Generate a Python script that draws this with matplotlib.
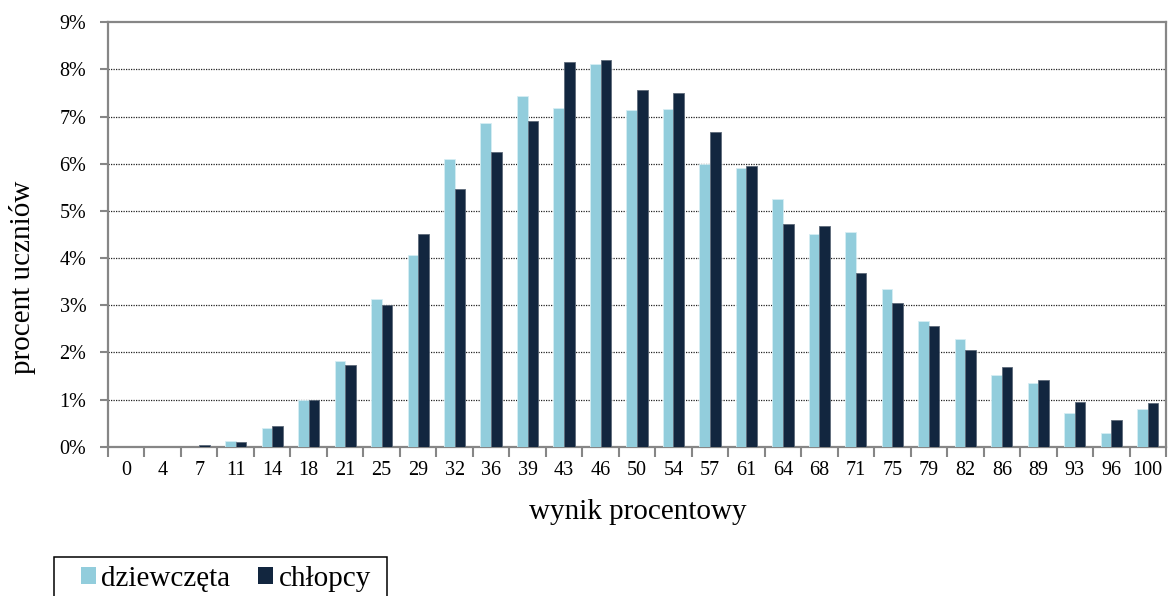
import matplotlib
matplotlib.use("Agg")
import matplotlib.pyplot as plt
import numpy as np
from matplotlib.patches import Patch, Rectangle

# Score categories (percent result) and share of students per category
wyniki = ["0", "4", "7", "11", "14", "18", "21", "25", "29", "32", "36", "39", "43", "46",
          "50", "54", "57", "61", "64", "68", "71", "75", "79", "82", "86", "89", "93", "96", "100"]
dziewczeta = [0.0, 0.0, 0.0, 0.13, 0.40, 1.00, 1.82, 3.13, 4.06, 6.11, 6.86, 7.43, 7.18, 8.12,
              7.14, 7.16, 6.00, 5.90, 5.25, 4.50, 4.56, 3.35, 2.67, 2.29, 1.52, 1.36, 0.71, 0.28, 0.81]
chlopcy = [0.0, 0.0, 0.04, 0.10, 0.43, 1.00, 1.73, 3.00, 4.51, 5.46, 6.24, 6.91, 8.15, 8.19,
           7.56, 7.50, 6.67, 5.95, 4.73, 4.68, 3.68, 3.04, 2.57, 2.05, 1.68, 1.42, 0.94, 0.57, 0.93]
procenty = [f"{i}%" for i in range(10)]

C_LIGHT = "#92CDDC"
C_DARK = "#12263F"
GRAY = "#868686"

plt.rcParams["font.family"] = ["Liberation Serif", "DejaVu Serif"]

W, H = 1168, 596
fig = plt.figure(figsize=(W / 100, H / 100), dpi=100)
ax = fig.add_axes([108 / W, 1 - 446.7 / H, (1166 - 108) / W, (446.7 - 22.3) / H])

x = np.arange(len(wyniki))
w = 0.29
ax.bar(x - w / 2, dziewczeta, width=w, color=C_LIGHT, edgecolor="#d6eef4", linewidth=0.6, zorder=3)
ax.bar(x + w / 2, chlopcy, width=w, color=C_DARK, edgecolor="#5d6a7a", linewidth=0.6, zorder=3)

ax.set_xlim(-0.5, len(wyniki) - 0.5)
ax.set_ylim(0, 9)

ax.set_yticks(range(10))
ax.set_yticklabels(procenty)
ax.set_xticks(x)
ax.set_xticklabels(wyniki)
ax.set_xticks(np.arange(len(wyniki) + 1) - 0.5, minor=True)

ax.tick_params(axis="y", which="major", length=6, width=1.5, color=GRAY, pad=9.5, labelsize=14.5)
ax.tick_params(axis="x", which="major", length=0, pad=10.5, labelsize=14.5)
ax.tick_params(axis="x", which="minor", length=7, width=1.5, color=GRAY)

for yv in range(1, 9):
    ax.axhline(yv, color="#222222", linewidth=0.9, linestyle=(0, (1, 1)), zorder=1)

for s in ax.spines.values():
    s.set_color(GRAY)
    s.set_linewidth(1.6)

fig.text(23 / W, 1 - 277.5 / H, "procent uczniów", rotation=90, ha="center", va="center", fontsize=21)
fig.text(637.5 / W, 1 - 519 / H, "wynik procentowy", ha="center", va="baseline", fontsize=21)

# Legend entries, with a plain rectangular frame running past the lower edge
handles = [Patch(facecolor=C_LIGHT, edgecolor="none"), Patch(facecolor=C_DARK, edgecolor="none")]
fig.legend(handles, ["dziewczęta", "chłopcy"], loc="upper left",
           bbox_to_anchor=(81 / W, 1 - 566 / H), ncol=2, fontsize=21,
           frameon=False, handlelength=0.5, handleheight=0.5,
           handletextpad=0.2, columnspacing=0.95, borderpad=0, borderaxespad=0)
fig.add_artist(Rectangle((54 / W, -0.05), (387 - 54) / W, (1 - 556.7 / H) + 0.05,
                         transform=fig.transFigure, fill=False, edgecolor="black", linewidth=1.1))

fig.savefig("out.png", dpi=100)
